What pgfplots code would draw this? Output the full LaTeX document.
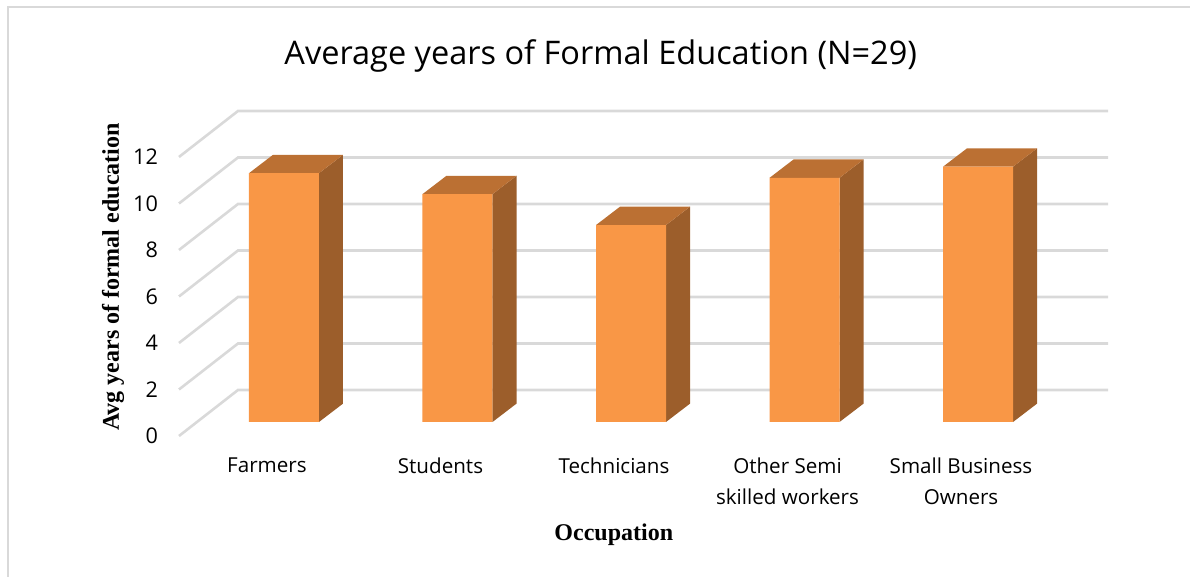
\documentclass[border=0pt]{standalone}
\usepackage{fontspec}
\setmainfont{Open Sans}
\newfontfamily\timesbf{Liberation Serif}[BoldFont={Liberation Serif Bold}]
\usepackage{pgfplots}
\pgfplotsset{compat=1.18}
\definecolor{barfront}{HTML}{F99746}
\definecolor{bartop}{HTML}{BB7033}
\definecolor{barside}{HTML}{9C5E2B}
\definecolor{gridgray}{HTML}{D9D9D9}
% 1 px of the reference = 0.5pt
\begin{document}
\begin{tikzpicture}[x=1pt,y=1pt]
\path[use as bounding box] (0,0) rectangle (595,288.5);
\draw[gridgray, line width=1pt] (4,0) -- (4,285.2) -- (595,285.2);
\begin{axis}[
  at={(89.5pt,70.5pt)}, anchor=south west,
  scale only axis, width=464.5pt, height=162.5pt,
  xmin=-0.605, xmax=4.749, ymin=-0.602, ymax=13.376,
  clip=false,
  axis line style={draw=none}, tick style={draw=none},
  xtick={0,1,2,3,4},
  xticklabels={Farmers,Students,Technicians,{Other Semi\\skilled workers},{Small Business\\Owners}},
  x tick label style={font=\fontsize{10.3}{15.2}\selectfont, align=center, anchor=north, xshift=-8.5pt, yshift=-7.5pt, text=black},
  ytick={0,2,4,6,8,10,12},
  y tick label style={font=\fontsize{10.8}{12}\selectfont, anchor=east, xshift=-7pt, yshift=-7pt, text=black},
  /pgf/number format/assume math mode=true,
  title={Average years of Formal Education (N=29)},
  title style={at={(0.454,1.132)}, anchor=center, yshift=0pt, font=\fontsize{16.25}{20}\selectfont},
  xlabel={Occupation},
  xlabel style={at={(0.468,-0.295)}, anchor=center, yshift=-1.5pt, font=\timesbf\bfseries\fontsize{12}{14}\selectfont},
  ylabel={Avg years of formal education},
  ylabel style={at={(-0.071,0.489)}, anchor=center, font=\timesbf\bfseries\fontsize{12}{14}\selectfont},
]
% walls
\addplot[gridgray, line width=1.3pt] coordinates {(-0.605,-0.602)(-0.265,1.376)(4.749,1.376)};
\addplot[gridgray, line width=1.3pt] coordinates {(-0.605,1.398)(-0.265,3.376)(4.749,3.376)};
\addplot[gridgray, line width=1.3pt] coordinates {(-0.605,3.398)(-0.265,5.376)(4.749,5.376)};
\addplot[gridgray, line width=1.3pt] coordinates {(-0.605,5.398)(-0.265,7.376)(4.749,7.376)};
\addplot[gridgray, line width=1.3pt] coordinates {(-0.605,7.398)(-0.265,9.376)(4.749,9.376)};
\addplot[gridgray, line width=1.3pt] coordinates {(-0.605,9.398)(-0.265,11.376)(4.749,11.376)};
\addplot[gridgray, line width=1.3pt] coordinates {(-0.605,11.398)(-0.265,13.376)(4.749,13.376)};
% side faces
\addplot[fill=barside, draw=none] coordinates {(0.2017,0)(0.3401,0.79)(0.3401,11.49)(0.2017,10.70)} -- cycle;
\addplot[fill=barside, draw=none] coordinates {(1.2017,0)(1.3401,0.79)(1.3401,10.59)(1.2017,9.80)} -- cycle;
\addplot[fill=barside, draw=none] coordinates {(2.2017,0)(2.3401,0.79)(2.3401,9.26)(2.2017,8.47)} -- cycle;
\addplot[fill=barside, draw=none] coordinates {(3.2017,0)(3.3401,0.79)(3.3401,11.29)(3.2017,10.50)} -- cycle;
\addplot[fill=barside, draw=none] coordinates {(4.2017,0)(4.3401,0.79)(4.3401,11.77)(4.2017,10.98)} -- cycle;
% top faces
\addplot[fill=bartop, draw=none] coordinates {(-0.2017,10.70)(-0.0634,11.49)(0.3401,11.49)(0.2017,10.70)} -- cycle;
\addplot[fill=bartop, draw=none] coordinates {(0.7983,9.80)(0.9366,10.59)(1.3401,10.59)(1.2017,9.80)} -- cycle;
\addplot[fill=bartop, draw=none] coordinates {(1.7983,8.47)(1.9366,9.26)(2.3401,9.26)(2.2017,8.47)} -- cycle;
\addplot[fill=bartop, draw=none] coordinates {(2.7983,10.50)(2.9366,11.29)(3.3401,11.29)(3.2017,10.50)} -- cycle;
\addplot[fill=bartop, draw=none] coordinates {(3.7983,10.98)(3.9366,11.77)(4.3401,11.77)(4.2017,10.98)} -- cycle;
% front faces
\addplot[ybar, bar width=35pt, fill=barfront, draw=none] coordinates {(0,10.70)(1,9.80)(2,8.47)(3,10.50)(4,10.98)};
\end{axis}
\end{tikzpicture}
\end{document}
